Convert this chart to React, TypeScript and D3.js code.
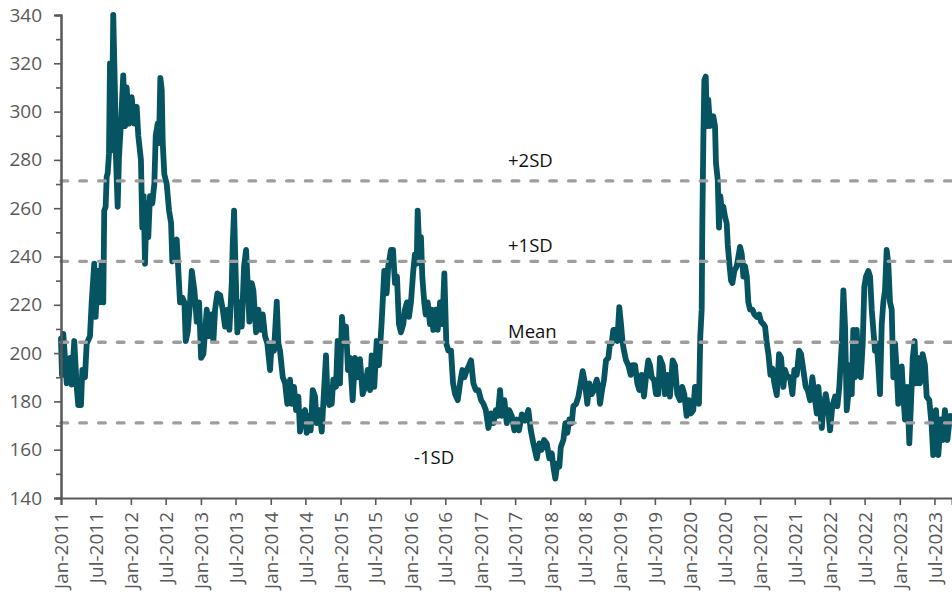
import React, { useEffect, useRef } from "react";
import * as d3 from "d3";

// ---- Data ----
const startYear = 2011;
// time of each observation, in years after Jan-2011
const yearOffsets = [
  0.000, 0.014, 0.033, 0.082, 0.129, 0.153, 0.190, 0.225, 0.247, 0.286, 0.305, 0.343, 0.368, 0.415, 0.439, 0.476,
  0.496, 0.525, 0.558, 0.582, 0.605, 0.619, 0.639, 0.654, 0.668, 0.687, 0.701, 0.725, 0.748, 0.773, 0.787, 0.811,
  0.830, 0.858, 0.891, 0.916, 0.940, 0.973, 1.011, 1.049, 1.083, 1.106, 1.144, 1.163, 1.183, 1.202, 1.226, 1.249,
  1.273, 1.306, 1.335, 1.355, 1.383, 1.402, 1.421, 1.441, 1.455, 1.478, 1.512, 1.545, 1.574, 1.592, 1.621, 1.655,
  1.678, 1.702, 1.735, 1.764, 1.784, 1.813, 1.845, 1.870, 1.907, 1.941, 1.974, 2.003, 2.036, 2.084, 2.117, 2.146,
  2.179, 2.203, 2.236, 2.275, 2.313, 2.346, 2.379, 2.408, 2.442, 2.456, 2.475, 2.494, 2.522, 2.551, 2.585, 2.618,
  2.647, 2.665, 2.694, 2.728, 2.751, 2.790, 2.823, 2.857, 2.886, 2.918, 2.951, 2.990, 3.014, 3.047, 3.086, 3.109,
  3.133, 3.172, 3.205, 3.237, 3.276, 3.300, 3.333, 3.362, 3.395, 3.419, 3.458, 3.491, 3.515, 3.544, 3.572, 3.601,
  3.634, 3.658, 3.695, 3.730, 3.752, 3.791, 3.810, 3.838, 3.873, 3.895, 3.934, 3.958, 3.991, 4.020, 4.049, 4.077,
  4.106, 4.134, 4.173, 4.206, 4.239, 4.277, 4.316, 4.349, 4.388, 4.421, 4.445, 4.482, 4.516, 4.549, 4.588, 4.625,
  4.659, 4.682, 4.721, 4.750, 4.778, 4.807, 4.835, 4.864, 4.897, 4.921, 4.950, 4.979, 5.007, 5.040, 5.064, 5.089,
  5.103, 5.126, 5.150, 5.169, 5.197, 5.217, 5.246, 5.279, 5.303, 5.326, 5.360, 5.389, 5.422, 5.455, 5.484, 5.512,
  5.541, 5.579, 5.608, 5.637, 5.675, 5.708, 5.741, 5.770, 5.804, 5.837, 5.865, 5.898, 5.933, 5.970, 6.009, 6.042,
  6.076, 6.113, 6.152, 6.185, 6.219, 6.247, 6.280, 6.305, 6.342, 6.376, 6.409, 6.448, 6.485, 6.519, 6.552, 6.591,
  6.638, 6.685, 6.720, 6.757, 6.805, 6.843, 6.877, 6.910, 6.948, 6.986, 7.020, 7.043, 7.071, 7.100, 7.129, 7.149,
  7.186, 7.215, 7.243, 7.272, 7.306, 7.329, 7.368, 7.401, 7.435, 7.463, 7.496, 7.529, 7.558, 7.592, 7.625, 7.664,
  7.692, 7.711, 7.740, 7.768, 7.797, 7.830, 7.854, 7.878, 7.901, 7.930, 7.958, 7.987, 8.011, 8.036, 8.054, 8.083,
  8.116, 8.150, 8.179, 8.212, 8.245, 8.273, 8.308, 8.340, 8.369, 8.402, 8.426, 8.451, 8.484, 8.512, 8.545, 8.569,
  8.608, 8.641, 8.674, 8.712, 8.751, 8.784, 8.817, 8.855, 8.888, 8.917, 8.951, 8.984, 9.013, 9.046, 9.070, 9.099,
  9.127, 9.146, 9.166, 9.175, 9.189, 9.204, 9.224, 9.242, 9.260, 9.285, 9.309, 9.332, 9.356, 9.370, 9.395, 9.413,
  9.432, 9.452, 9.475, 9.499, 9.523, 9.538, 9.561, 9.585, 9.604, 9.632, 9.667, 9.690, 9.714, 9.738, 9.761, 9.785,
  9.810, 9.832, 9.857, 9.890, 9.918, 9.953, 9.986, 10.014, 10.047, 10.071, 10.096, 10.119, 10.147, 10.176, 10.204, 10.239,
  10.271, 10.300, 10.333, 10.357, 10.390, 10.429, 10.462, 10.490, 10.525, 10.558, 10.586, 10.619, 10.653, 10.682, 10.715, 10.748,
  10.777, 10.811, 10.834, 10.858, 10.883, 10.906, 10.940, 10.969, 11.001, 11.034, 11.073, 11.106, 11.134, 11.169, 11.192, 11.216,
  11.240, 11.263, 11.287, 11.312, 11.334, 11.359, 11.383, 11.406, 11.441, 11.469, 11.492, 11.516, 11.549, 11.574, 11.598, 11.621,
  11.645, 11.669, 11.692, 11.716, 11.741, 11.764, 11.788, 11.812, 11.835, 11.860, 11.884, 11.907, 11.931, 11.955, 11.978, 12.003,
  12.027, 12.050, 12.074, 12.107, 12.136, 12.156, 12.185, 12.212, 12.232, 12.260, 12.289, 12.327, 12.360, 12.384, 12.422, 12.456,
  12.478, 12.518, 12.551, 12.585, 12.613, 12.646, 12.681, 12.718,
];
const indexValues = [
  206, 191, 208, 187.5, 198, 187, 205, 186, 178.5, 178.5, 193, 190, 204, 207, 221, 237,
  215, 234, 221, 237, 221, 259, 260.6, 273, 274.4, 282.7, 320, 284, 340, 307.6, 281, 260.6,
  281, 295, 315, 294, 310, 295, 306, 295, 302, 290, 280, 252, 265, 237, 262, 248,
  265, 262, 270, 290, 295, 287, 314, 309, 287, 274, 270, 259, 254, 238, 245, 247,
  234, 221, 223, 221, 205, 209, 221, 234, 226, 213, 221, 198, 199.6, 218, 207, 216,
  205, 218, 224.7, 224, 218, 211, 218, 209.6, 229, 245.5, 259, 237, 208.6, 221, 211, 236,
  242.7, 231.7, 213, 229, 226, 208.6, 218, 209.6, 216, 207, 204, 193, 204, 201, 221.3, 204,
  201, 190, 187.5, 179, 189, 179, 186, 176.4, 182, 167.5, 175, 176.4, 167, 174, 168, 184.7,
  182, 171, 176.4, 167.5, 179, 199, 183, 178.5, 179, 189, 186, 205, 187.5, 215, 204, 211,
  193, 198, 180.5, 198, 190, 197.5, 183, 186, 193, 184.7, 199, 186, 205, 195, 213, 234,
  224.7, 236, 242.7, 242.7, 229, 231.7, 212, 208.6, 212, 218, 221, 215, 221, 234, 241, 237,
  259, 242.7, 248, 231.7, 221, 216, 221, 212, 218, 209.6, 218, 209.6, 221, 212, 233, 204,
  201, 201, 187.5, 183, 180.5, 187.5, 193, 190, 193, 195, 197, 187.5, 184.7, 184.7, 180.5, 179,
  176.4, 169, 175, 171, 176.4, 174, 184.7, 174, 180.5, 171, 176.4, 174, 168, 172.5, 168, 174.6,
  172, 176.4, 168, 162.6, 156.4, 162.6, 160, 164, 162.6, 156.4, 158.5, 153, 148, 154.3, 153, 161,
  164, 171, 167, 172.5, 171, 178, 179, 182, 187.5, 192.5, 187.5, 179, 187.5, 183, 184.7, 189,
  184.7, 179, 184.7, 189, 197, 198, 204, 204, 209.6, 209.6, 205, 219, 212, 204, 201, 197,
  195, 191, 195, 195, 187.5, 184.7, 191, 182, 190, 197, 195, 190, 189, 183, 183, 198,
  195, 183, 191, 182, 197, 195, 183, 180.5, 186, 183, 174, 180.5, 175, 176.4, 186, 186,
  179, 207, 218, 253.7, 287, 313, 314.5, 294, 305, 294, 297, 298, 294, 278.6, 271.7, 252,
  265, 259, 260.6, 256.5, 253.7, 245, 237, 230, 229, 234, 236, 240, 244, 241, 231.7, 236,
  231.7, 221, 218, 218, 216, 215, 216, 213, 212, 211, 204, 199.6, 191, 193.6, 187.5, 182.6,
  199.6, 198, 186, 193, 190, 190, 183, 193, 191, 201, 199.6, 193, 186, 184.7, 180.5, 190,
  183, 175, 186, 176.4, 169, 178, 183, 178, 168, 178, 182, 178, 186, 204, 226, 211,
  176.4, 183, 195, 183, 209.6, 190, 209.6, 193, 190, 204, 227.5, 231.7, 234, 231.7, 218, 209.6,
  201, 204, 195, 183, 212, 221, 226, 242.7, 237, 221, 218, 190, 204, 193, 179, 187.5,
  194.5, 182, 172.5, 186, 162.6, 176.4, 198, 205, 187.5, 198, 187.5, 199.6, 195, 182, 180.5, 170,
  157.8, 176.4, 157.8, 172.5, 164, 176.4, 164, 174,
];
// reference levels (mean and standard deviations)
const bandNames = ["+2SD", "+1SD", "Mean", "-1SD"];
const bandLevels = [271.3, 238.0, 204.5, 171.1];
// y axis range and ticks
const yMin = 140;
const yMax = 340;
const yMajorTicks = [140, 160, 180, 200, 220, 240, 260, 280, 300, 320, 340];
const yMinorTicks = [150, 170, 190, 210, 230, 250, 270, 290, 310, 330];
const xEndOffset = 12.747;

function toDate(t: number): Date {
  const yr = Math.floor(t);
  const s = new Date(yr, 0, 1).getTime();
  const e = new Date(yr + 1, 0, 1).getTime();
  return new Date(s + (t - yr) * (e - s));
}

const W = 952;
const H = 594;
const M = { left: 61, right: 0, top: 15, bottom: 96 };
const FONT = "'Open Sans', 'Noto Sans', sans-serif";
const AXIS = "#595959";

export default function App() {
  const ref = useRef<SVGSVGElement | null>(null);

  useEffect(() => {
    const svg = d3.select(ref.current);
    svg.selectAll("*").remove();

    const data = yearOffsets.map((o, i) => ({ d: toDate(startYear + o), v: indexValues[i] }));

    const x = d3
      .scaleTime()
      .domain([toDate(startYear), toDate(startYear + xEndOffset)])
      .range([M.left, W - M.right]);
    const y = d3.scaleLinear().domain([yMin, yMax]).range([H - M.bottom, M.top]);

    // series line
    const line = d3
      .line<{ d: Date; v: number }>()
      .x((p) => x(p.d))
      .y((p) => y(p.v));
    svg
      .append("path")
      .datum(data)
      .attr("d", line)
      .attr("fill", "none")
      .attr("stroke", "#065461")
      .attr("stroke-width", 5.8)
      .attr("stroke-linejoin", "round")
      .attr("stroke-linecap", "round");

    // SD band lines
    const bands = svg.append("g");
    bands
      .selectAll("line")
      .data(bandLevels)
      .join("line")
      .attr("x1", M.left)
      .attr("x2", W)
      .attr("y1", (v) => y(v))
      .attr("y2", (v) => y(v))
      .attr("stroke", "#9e9e9e")
      .attr("stroke-width", 3.4)
      .attr("stroke-dasharray", "6.6 12.2")
      .attr("stroke-linecap", "round");

    // band labels
    const labelX = [508, 508, 508, 414];
    const labelDy = [-14, -9.5, -4, 41];
    bands
      .selectAll("text")
      .data(bandNames)
      .join("text")
      .attr("x", (_, i) => labelX[i])
      .attr("y", (_, i) => y(bandLevels[i]) + labelDy[i])
      .attr("fill", "#111")
      .attr("font-family", FONT)
      .attr("font-size", 18.5)
      .text((d) => d);

    // y axis
    const yMinor = svg.append("g").attr("transform", `translate(${M.left},0)`);
    yMinor.call(d3.axisLeft(y).tickValues(yMinorTicks).tickSize(5).tickFormat(() => ""));
    const yAxis = svg.append("g").attr("transform", `translate(${M.left},0)`);
    yAxis.call(
      d3.axisLeft(y).tickValues(yMajorTicks).tickSize(7).tickPadding(12).tickFormat(d3.format("d"))
    );
    [yMinor, yAxis].forEach((g) => {
      g.select(".domain").attr("stroke", AXIS).attr("stroke-width", 2);
      g.selectAll(".tick line").attr("stroke", AXIS).attr("stroke-width", 1.6);
    });
    yAxis
      .selectAll(".tick text")
      .attr("fill", AXIS)
      .attr("font-family", FONT)
      .attr("font-size", 19);

    // x axis
    const xAxis = svg.append("g").attr("transform", `translate(0,${H - M.bottom})`);
    xAxis.call(
      d3
        .axisBottom(x)
        .ticks(d3.timeMonth.every(6))
        .tickSize(7)
        .tickFormat((d) => d3.timeFormat("%b-%Y")(d as Date))
    );
    xAxis.select(".domain").attr("stroke", AXIS).attr("stroke-width", 2);
    xAxis.selectAll(".tick line").attr("stroke", AXIS).attr("stroke-width", 1.6);
    xAxis
      .selectAll(".tick text")
      .attr("fill", AXIS)
      .attr("font-family", FONT)
      .attr("font-size", 19)
      .attr("text-anchor", "end")
      .attr("transform", "rotate(-90)")
      .attr("x", -14)
      .attr("y", 0)
      .attr("dy", "0.35em");
  }, []);

  return (
    <svg
      ref={ref}
      width={W}
      height={H}
      style={{ position: "absolute", left: 0, top: 0, background: "#fff" }}
    />
  );
}
